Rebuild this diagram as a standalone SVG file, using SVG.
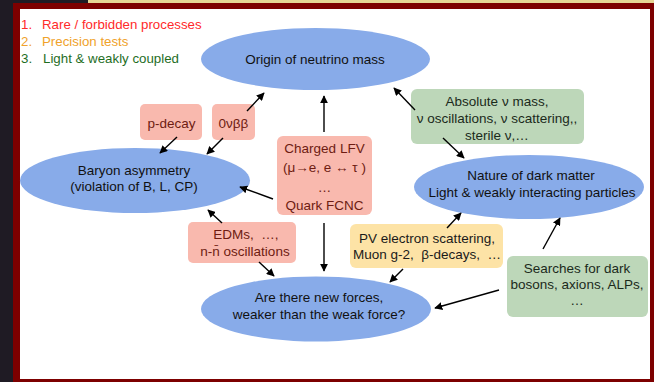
<svg xmlns="http://www.w3.org/2000/svg" width="654" height="382" viewBox="0 0 654 382">
<defs>
<marker id="ah" viewBox="0 0 10 10" refX="9" refY="5" markerWidth="8" markerHeight="8" markerUnits="userSpaceOnUse" orient="auto">
<path d="M0,0 L10,5 L0,10 z" fill="#000"/>
</marker>
<style>
text{font-family:"Liberation Sans",Arial,sans-serif;font-size:13.5px;text-anchor:middle}
.ell{fill:#88abe9}
.pink{fill:#f9b9ae}
.pt{fill:#6e1c12}
.green{fill:#bdd7b9}
.gt{fill:#1b2a1b}
.yel{fill:#fde3a6}
.yt{fill:#1a1a1a}
.et{fill:#111}
.leg{text-anchor:start;font-size:13.3px}
.conn line{stroke:#000;stroke-width:1.4;marker-end:url(#ah)}
</style>
</defs>
<rect x="0" y="0" width="654" height="382" fill="#1f1b24"/>
<rect x="88" y="0" width="566" height="4" fill="#e6d594"/>
<rect x="13" y="3" width="641" height="379" fill="#7d0000"/>
<rect x="20" y="9" width="630" height="370" fill="#ffffff"/>

<g id="legend">
<text class="leg" x="21" y="29" fill="#ff2a2a">1.</text>
<text class="leg" x="42" y="29" fill="#ff2a2a">Rare / forbidden processes</text>
<text class="leg" x="21" y="46" fill="#f0a22a">2.</text>
<text class="leg" x="42" y="46" fill="#f0a22a">Precision tests</text>
<text class="leg" x="21" y="63" fill="#1f6e1f">3.</text>
<text class="leg" x="43" y="63" fill="#1f6e1f">Light &amp; weakly coupled</text>
</g>

<g id="origin">
<ellipse class="ell" cx="315.5" cy="59" rx="114.5" ry="31"/>
<text class="et" x="315" y="64">Origin of neutrino mass</text>
</g>
<g id="baryon">
<ellipse class="ell" cx="135" cy="180.5" rx="115" ry="32.5"/>
<text class="et" x="134" y="175">Baryon asymmetry</text>
<text class="et" x="134" y="191">(violation of B, L, CP)</text>
</g>
<g id="darkmatter">
<ellipse class="ell" cx="529" cy="187" rx="115" ry="32"/>
<text class="et" x="531" y="180">Nature of dark matter</text>
<text class="et" x="532" y="197">Light &amp; weakly interacting particles</text>
</g>
<g id="newforces">
<ellipse class="ell" cx="316" cy="309" rx="115" ry="32.5"/>
<text class="et" x="319" y="302">Are there new forces,</text>
<text class="et" x="319" y="319">weaker than the weak force?</text>
</g>

<g id="pdecay">
<rect class="pink" x="140" y="104" width="62" height="36" rx="5"/>
<text class="pt" x="171.5" y="128">p-decay</text>
</g>
<g id="0vbb">
<rect class="pink" x="212" y="104" width="43" height="36" rx="5"/>
<text class="pt" x="233.5" y="128">0νββ</text>
</g>
<g id="clfv">
<rect class="pink" x="277" y="136" width="95" height="79" rx="6"/>
<text class="pt" x="324.5" y="153">Charged LFV</text>
<text class="pt" x="324.5" y="172">(μ→e, e ↔ τ )</text>
<text class="pt" x="324.5" y="192">…</text>
<text class="pt" x="324.5" y="210">Quark FCNC</text>
</g>
<g id="edm">
<rect class="pink" x="188" y="222" width="108" height="41" rx="5"/>
<text class="pt" x="246" y="239">EDMs,&#160; …,</text>
<text class="pt" x="245" y="256">n-n̄ oscillations</text>
</g>
<g id="pv">
<rect class="yel" x="350" y="224" width="153" height="44" rx="6"/>
<text class="yt" x="427" y="243">PV electron scattering,</text>
<text class="yt" x="427" y="259">Muon g-2,&#160; β-decays,&#160; …</text>
</g>
<g id="absnu">
<rect class="green" x="411" y="89" width="173" height="55" rx="6"/>
<text class="gt" x="497" y="106">Absolute ν mass,</text>
<text class="gt" x="497" y="123">ν oscillations, ν scattering,,</text>
<text class="gt" x="497" y="140">sterile ν,…</text>
</g>
<g id="searches">
<rect class="green" x="507" y="256" width="141" height="61" rx="6"/>
<text class="gt" x="577" y="273">Searches for dark</text>
<text class="gt" x="577" y="289">bosons, axions, ALPs,</text>
<text class="gt" x="577" y="305">…</text>
</g>

<g id="connectors" class="conn">
<line x1="247" y1="111" x2="264" y2="93"/>
<line x1="324" y1="132" x2="324" y2="96"/>
<line x1="415" y1="110" x2="394" y2="88"/>
<line x1="177" y1="137" x2="160" y2="153"/>
<line x1="223" y1="138" x2="207" y2="154"/>
<line x1="273" y1="199" x2="240" y2="187"/>
<line x1="222" y1="223" x2="208" y2="210"/>
<line x1="443" y1="138" x2="464" y2="158"/>
<line x1="259" y1="262" x2="274" y2="276"/>
<line x1="324" y1="223" x2="324" y2="271"/>
<line x1="447" y1="228" x2="461" y2="213"/>
<line x1="403" y1="269" x2="390" y2="282"/>
<line x1="543" y1="249" x2="560" y2="218"/>
<line x1="499" y1="290" x2="435" y2="308"/>
</g>
</svg>
